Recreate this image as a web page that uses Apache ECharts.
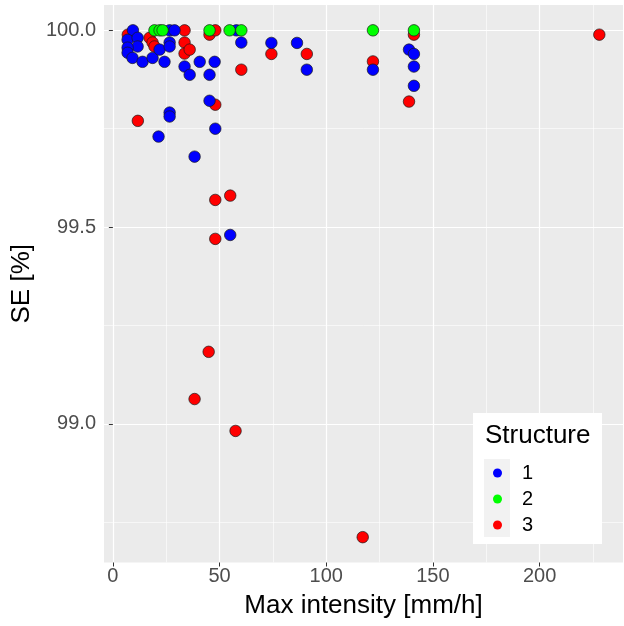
<!DOCTYPE html>
<html>
<head>
<meta charset="utf-8">
<script src="https://cdn.jsdelivr.net/npm/echarts@6/dist/echarts.min.js"></script>
<style>
html, body { margin: 0; padding: 0; background: #fff; }
#main { width: 624px; height: 626px; }
</style>
</head>
<body>
<div id="main"></div>
<script>
const chartDom = document.getElementById('main')
const myChart = echarts.init(chartDom)

// Max intensity [mm/h], SE [%] per structure
const structure1 = [
    [9.4, 100.0], [6.9, 99.976], [11.6, 99.981], [11.6, 99.959], [6.9, 99.956],
    [6.9, 99.943], [9.2, 99.930], [13.9, 99.920], [18.6, 99.930], [21.9, 99.951],
    [24.2, 99.920], [26.6, 99.969], [26.6, 99.959], [26.6, 100.0], [28.9, 100.0],
    [33.6, 99.908], [36.0, 99.887], [40.7, 99.920], [47.7, 99.920], [45.3, 99.887],
    [60.2, 99.969], [57.9, 100.0], [45.3, 99.821], [48.0, 99.750], [26.6, 99.791],
    [26.6, 99.781], [21.4, 99.730], [38.3, 99.679], [55.0, 99.480], [74.3, 99.968],
    [86.3, 99.968], [90.9, 99.900], [121.9, 99.900], [138.8, 99.951], [141.1, 99.940],
    [141.1, 99.908], [141.1, 99.859]
]
const structure2 = [
    [19.5, 100.0], [21.9, 100.0], [23.3, 100.0], [45.3, 100.0], [54.7, 100.0],
    [60.2, 100.0], [121.9, 100.0], [141.1, 100.0]
]
const structure3 = [
    [7.0, 99.989], [17.2, 99.981], [18.6, 99.969], [19.5, 99.959], [33.6, 100.0],
    [33.6, 99.969], [33.6, 99.941], [36.0, 99.951], [45.3, 99.989], [48.0, 100.0],
    [60.2, 99.900], [48.0, 99.811], [11.7, 99.770], [74.3, 99.940], [90.9, 99.940],
    [121.9, 99.921], [141.1, 99.989], [138.8, 99.819], [48.0, 99.569], [55.0, 99.580],
    [48.0, 99.470], [44.9, 99.183], [38.3, 99.063], [57.5, 98.982], [117.1, 98.712],
    [228.0, 99.989]
]

const structureNames = ['1', '2', '3']
const structureColors = ['#0000FF', '#00FF00', '#FF0000']

const xMajor = [0, 50, 100, 150, 200]
const xMinor = [25, 75, 125, 175, 225]
const yMajor = [99.0, 99.5, 100.0]
const yMinor = [98.75, 99.25, 99.75]

const xLimits = [-4.16, 239.1]
const yLimits = [98.6476, 100.0644]

const font = 'Liberation Sans, Arial, sans-serif'

function pointSeries(name, data, color) {
    return {
        name,
        type: 'scatter',
        data,
        symbol: 'circle',
        symbolSize: 11.5,
        itemStyle: {
            color,
            borderColor: '#1a1a1a',
            borderWidth: 0.7,
            opacity: 1
        },
        emphasis: { disabled: true }
    }
}

const option = {
    animation: false,
    textStyle: { fontFamily: font },
    grid: {
        left: 104,
        right: 1,
        top: 5,
        bottom: 63.5,
        outerBoundsMode: 'none',
        containLabel: false,
        show: true,
        backgroundColor: '#EBEBEB',
        borderWidth: 0
    },
    xAxis: [
        {
            type: 'value',
            min: xLimits[0],
            max: xLimits[1],
            name: 'Max intensity [mm/h]',
            nameLocation: 'middle',
            nameGap: 30,
            nameTextStyle: { fontSize: 26, color: '#000', fontFamily: font },
            axisLine: { show: false },
            axisTick: { show: true, length: 4, lineStyle: { color: '#333' }, customValues: xMajor },
            axisLabel: { fontSize: 20, color: '#4D4D4D', margin: 4, fontFamily: font, customValues: xMajor },
            splitLine: { show: true, lineStyle: { color: '#fff', width: 1.2 } }
        },
        {
            type: 'value',
            position: 'top',
            min: xLimits[0],
            max: xLimits[1],
            axisLine: { show: false },
            axisTick: { show: false, customValues: xMinor },
            axisLabel: { show: false, customValues: xMinor },
            splitLine: { show: true, lineStyle: { color: '#fff', width: 0.6 } }
        }
    ],
    yAxis: [
        {
            type: 'value',
            min: yLimits[0],
            max: yLimits[1],
            name: 'SE [%]',
            nameLocation: 'middle',
            nameGap: 69,
            nameRotate: 90,
            nameTextStyle: { fontSize: 26, color: '#000', fontFamily: font },
            axisLine: { show: false },
            axisTick: { show: true, length: 4, lineStyle: { color: '#333' }, customValues: yMajor },
            axisLabel: {
                fontSize: 20, color: '#4D4D4D', margin: 8, fontFamily: font,
                customValues: yMajor,
                formatter: v => v.toFixed(1)
            },
            splitLine: { show: true, lineStyle: { color: '#fff', width: 1.2 } }
        },
        {
            type: 'value',
            position: 'right',
            min: yLimits[0],
            max: yLimits[1],
            axisLine: { show: false },
            axisTick: { show: false, customValues: yMinor },
            axisLabel: { show: false, customValues: yMinor },
            splitLine: { show: true, lineStyle: { color: '#fff', width: 0.6 } }
        }
    ],
    legend: {
        data: structureNames,
        orient: 'vertical',
        left: 488,
        top: 458,
        z: 20,
        icon: 'circle',
        itemWidth: 9,
        itemHeight: 9,
        itemGap: 6,
        itemStyle: { borderWidth: 0 },
        selectedMode: false,
        textStyle: {
            fontSize: 20,
            lineHeight: 20,
            color: '#000',
            fontFamily: font,
            padding: [0, 0, 0, 15]
        }
    },
    graphic: [
        {
            type: 'rect',
            z: 10,
            shape: { x: 473, y: 413, width: 129, height: 131 },
            style: { fill: '#fff' }
        },
        {
            type: 'rect',
            z: 11,
            shape: { x: 484, y: 459, width: 26, height: 78 },
            style: { fill: '#F2F2F2' }
        },
        {
            type: 'text',
            z: 11,
            x: 485,
            y: 436,
            style: {
                text: 'Structure',
                fontSize: 26,
                fontFamily: font,
                fill: '#000',
                verticalAlign: 'middle'
            }
        }
    ],
    series: [
        pointSeries(structureNames[2], structure3, structureColors[2]),
        pointSeries(structureNames[0], structure1, structureColors[0]),
        pointSeries(structureNames[1], structure2, structureColors[1])
    ]
}

myChart.setOption(option)
</script>
</body>
</html>
